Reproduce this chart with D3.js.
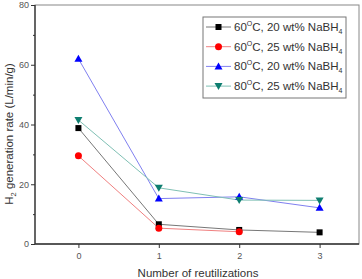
<!DOCTYPE html>
<html><head><meta charset="utf-8">
<script src="https://cdn.jsdelivr.net/npm/d3@7"></script>
<style>body{margin:0;background:#fff}svg{display:block;font-family:"Liberation Sans",Arial,sans-serif}</style>
</head><body><svg id="c" width="362" height="279"></svg>
<script>
const reuses = [0, 1, 2, 3];
const s60_20 = [38.8, 6.6, 4.7, 3.9];
const s60_25 = [29.5, 5.3, 4.1];
const s80_20 = [62.0, 15.2, 15.8, 12.1];
const s80_25 = [41.5, 18.8, 14.7, 14.6];
const seriesNames = [["60","20"],["60","25"],["80","20"],["80","25"]];
const yTicks = [0, 20, 40, 60, 80];
const yMinor = [10, 30, 50, 70];

const series = [
  {vals: s60_20, color: "#000000", line: "#777", sym: "square"},
  {vals: s60_25, color: "#ff0000", line: "#f08080", sym: "circle"},
  {vals: s80_20, color: "#0000ff", line: "#8080f0", sym: "tri"},
  {vals: s80_25, color: "#0e7e70", line: "#7fc0b4", sym: "tridown"}
];

const svg = d3.select("#c");
const L = 35, R = 359, T = 5, B = 244;
const x = d3.scaleLinear().domain([-0.54, 3.49]).range([L, R]);
const y = d3.scaleLinear().domain([0, 80]).range([B, T]);

// frame
svg.append("rect").attr("x", L).attr("y", T).attr("width", R - L).attr("height", B - T)
  .attr("fill", "none").attr("stroke", "#888").attr("stroke-width", 1);
svg.append("line").attr("x1", L).attr("x2", L).attr("y1", T).attr("y2", B).attr("stroke", "#333").attr("stroke-width", 1.3);
svg.append("line").attr("x1", L).attr("x2", R).attr("y1", B).attr("y2", B).attr("stroke", "#333").attr("stroke-width", 1.3);

// y axis
const gy = svg.append("g").attr("transform", `translate(${L},0)`)
  .call(d3.axisLeft(y).tickValues(yTicks).tickSize(4).tickPadding(2));
gy.select(".domain").remove();
gy.selectAll("text").attr("font-size", 9).attr("fill", "#555").attr("font-family", "Liberation Sans, Arial, sans-serif");
gy.selectAll("line").attr("stroke", "#333");
svg.append("g").attr("transform", `translate(${L},0)`)
  .call(d3.axisLeft(y).tickValues(yMinor).tickSize(2).tickFormat(""))
  .call(g => g.select(".domain").remove()).selectAll("line").attr("stroke", "#333");

// x axis
const gx = svg.append("g").attr("transform", `translate(0,${B})`)
  .call(d3.axisBottom(x).tickValues(reuses).tickFormat(d3.format("d")).tickSize(4).tickPadding(5));
gx.select(".domain").remove();
gx.selectAll("text").attr("font-size", 9).attr("fill", "#555").attr("font-family", "Liberation Sans, Arial, sans-serif");
gx.selectAll("line").attr("stroke", "#333");

// axis titles
svg.append("text").attr("x", 198).attr("y", 277).attr("text-anchor", "middle")
  .attr("font-size", 11.5).attr("fill", "#333").text("Number of reutilizations");
const yt = svg.append("text").attr("transform", `translate(13,134) rotate(-90)`)
  .attr("text-anchor", "middle").attr("font-size", 11.5).attr("fill", "#333");
yt.append("tspan").text("H");
yt.append("tspan").attr("font-size", 7.5).attr("dy", 3).text("2");
yt.append("tspan").attr("dy", -3).text(" generation rate (L/min/g)");

function symbol(g, type, cx, cy, color) {
  if (type === "square") g.append("rect").attr("x", cx - 3).attr("y", cy - 3).attr("width", 6).attr("height", 6).attr("fill", color);
  else if (type === "circle") g.append("circle").attr("cx", cx).attr("cy", cy).attr("r", 3.5).attr("fill", color);
  else if (type === "tri") g.append("path").attr("d", `M${cx},${cy - 4}L${cx + 4},${cy + 3}L${cx - 4},${cy + 3}Z`).attr("fill", color);
  else g.append("path").attr("d", `M${cx},${cy + 4}L${cx + 4},${cy - 3}L${cx - 4},${cy - 3}Z`).attr("fill", color);
}

const line = d3.line().x((d, i) => x(reuses[i])).y(d => y(d));
series.forEach(s => {
  svg.append("path").attr("d", line(s.vals)).attr("fill", "none").attr("stroke", s.line).attr("stroke-width", 1);
});
series.forEach(s => {
  const g = svg.append("g");
  s.vals.forEach((v, i) => symbol(g, s.sym, x(reuses[i]), y(v), s.color));
});

// legend
const lg = svg.append("g");
lg.append("rect").attr("x", 203).attr("y", 17).attr("width", 143).attr("height", 81)
  .attr("fill", "#fff").attr("stroke", "#777").attr("stroke-width", 1);
series.forEach((s, i) => {
  const cy = 27 + i * 19.7;
  lg.append("line").attr("x1", 206).attr("x2", 231).attr("y1", cy).attr("y2", cy).attr("stroke", s.line).attr("stroke-width", 1);
  symbol(lg, s.sym, 218.5, cy, s.color);
  const t = lg.append("text").attr("x", 234).attr("y", cy + 4).attr("font-size", 11.5).attr("fill", "#333");
  t.append("tspan").text(seriesNames[i][0]);
  t.append("tspan").attr("font-size", 7).attr("dy", -5).text("O");
  t.append("tspan").attr("dy", 5).text("C, " + seriesNames[i][1] + " wt% NaBH");
  t.append("tspan").attr("font-size", 7).attr("dy", 3).text("4");
});
</script></body></html>
